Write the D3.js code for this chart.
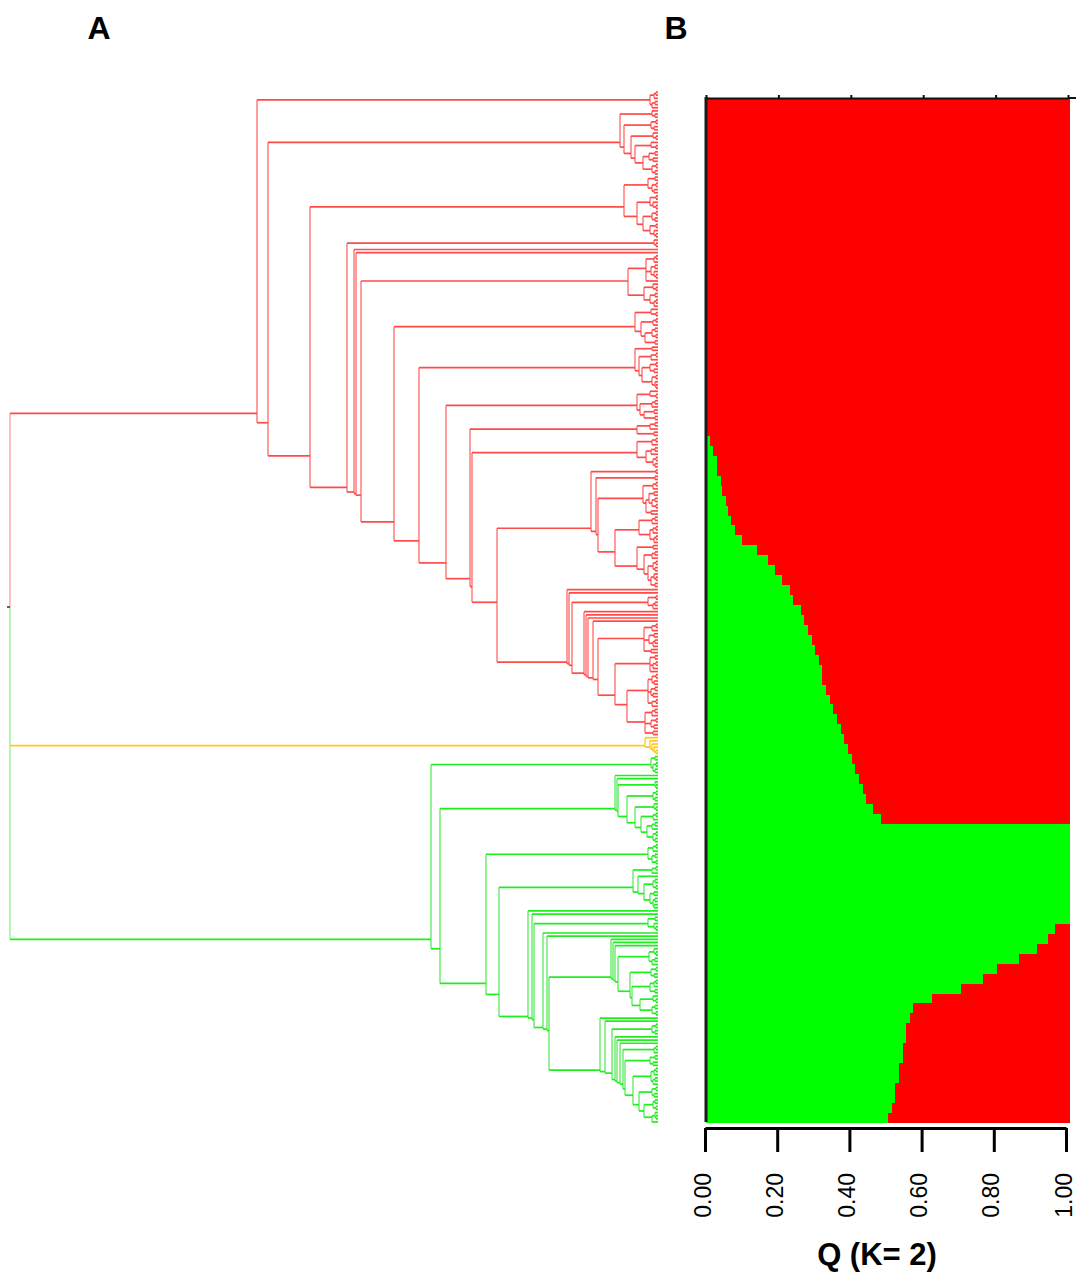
<!DOCTYPE html>
<html>
<head>
<meta charset="utf-8">
<script src="https://cdn.jsdelivr.net/npm/d3@7"></script>
<style>
  body { margin: 0; background: #ffffff; }
  svg { display: block; }
</style>
</head>
<body>
<script>
// ---------------- DATA ----------------
// Dendrogram (panel A) in a compact Newick-like notation:
// "x" = one accession (leaf); "(...)h" = a cluster joined at distance h.
const T1 = "(((xx)2x)4((xx)3x)6)8";
const C1 = "((x(xx)3)6(((xx)2(xx)4)7((x(xx)2)5((x(xx)2)7(((xx)3(xx)5)9((xx)2(xx)3)6)15)23)27)34)38";
const D1 = "(((xx)3((xx)2(xx)4)6)10(((xx)2(x(xx)2)5)8(((xx)2(xx)3)6((xx)2(x(xx)2)4)8)15)21)34";
const TINY = "(x(xx)2)4";
const E1 = "((((xx)2x)4((xx)3(x(xx)2)4)7x)12((x(xx)2)5((xx)3((xx)2x)4)8)14)30";
const F1 = "((x(xx)2)7(((xx)2x)5(((xx)3(xx)2)6(xx)3)13)17)23";
const G1 = "((xx)6(((xx)2x)7(((xx)2(xx)4)8((xx)2(x(xx)2)3)6)16)19)23";
const H1 = "((x(xx)2)8(((xx)3x)6((xx)4(xx)3)14)18)21";
const I1 = "(((xx)3x)8(xx)4)21";
const J1 = "(((xx)2x)6(((xx)3x)7((xx)2(xx)3)5)12)21";
const K_A = "(((xx)2x)5(((xx)4((xx)3(xx)2)6)9(xx)7)12)15";
const K_B = "(((xx)3x)6(((xx)2x)5((xx)2x)4)8)19";
const K_C = "((xx)5(((xx)3x)6(((xx)2(xx)3)5((x(xx)2)4(xx)3)7)10)14)21";
const L_A = "((xx)2((xx)3x)5)10";
const L_B = "(((xx)2x)6((xx)4((xx)3x)5)9(xx)7)14";
const L_C = "((xx)3((xx)2x)5x)8";
const L_D = "(((xx)2(xx)4)6((xx)3(xx)5)7((xx)2x)6)10";
const L_E = "(((xx)3x)6((xx)2(xx)4)7(xx)5)13";
const UPPER = `((xx)2((xx)3(${K_A}(${K_B}${K_C})43)60)62)67`;
const LOWER = `(x(x(${L_A}(x(x(x(x(${L_B}(${L_C}(${L_D}${L_E})31)43)60)65)70)72)74)86)89)91`;
const RED_CLUSTER = `(${T1}(${C1}(${D1}(${TINY}(x(x(${E1}(${F1}(${G1}(${H1}(${I1}(${J1}(${UPPER}${LOWER})161)186)188)212)239)264)297)302)304)311)348)390)401`;

const YELLOW_CLUSTER = "(x(x(x(x(xx)2)4)6)8)13";

const G_A = "((xx)3((xx)2(xx)3)5)7";
const G_M = "(x(x((x(xx)2)3(((xx)2(xx)3)5((x(xx)2)4(((xx)2x)5(((xx)3x)6((xx)2(xx)3)5)11)17)23)31)40)41)43";
const G_C = "(((xx)2x)5((xx)3(xx)2)6)10";
const G_P = "(((xx)2x)6(x(((xx)3(xx)2)5((xx)4((xx)3(xx)4)5)8)14)20)25";
const G_Q = "((xx)3(x(xx)2)4)10";
const G_R = "(x(x(x(((x(xx)2)4((xx)3x)6)9(((xx)2(xx)4)7((((xx)2x)4(xx)3)8((x(xx)2)5((xx)3(xx)2)6)18)26)28)40)43)45)47";
const G_S = "(x(x(((xx)2(xx)3)6(x(x(x(((xx)2x)4(((xx)3(xx)5)8((((xx)2x)4((xx)3x)5)7(((xx)2(xx)4)6(((xx)3(xx)2)5((x(xx)2)3x)6)14)19)25)33)35)38)41)43)46)53)58";
const GREEN_CLUSTER = `(${G_A}(${G_M}(${G_C}(${G_P}(x(x(${G_Q}(x(x(${G_R}${G_S})109)111)115)124)126)130)159)172)218)227`;

const TREE = `(${RED_CLUSTER}${YELLOW_CLUSTER}${GREEN_CLUSTER})648`;
const maxDistance = 648;

// Panel B: membership coefficient of the green group (Q, K = 2), one value per sorted individual
const qGreen = [
  0,0,0,0,0,0,0,0,0,0,
  0,0,0,0,0,0,0,0,0,0,
  0,0,0,0,0,0,0,0,0,0,
  0,0,0,0,
  0.01,0.02,0.03,0.03,0.04,0.045,0.055,0.06,0.07,0.08,
  0.10,0.14,0.17,0.19,0.21,0.23,0.24,0.26,0.27,0.28,
  0.29,0.30,0.31,0.32,0.32,0.33,0.34,0.35,0.36,0.37,
  0.38,0.39,0.40,0.41,0.42,0.43,0.44,0.46,0.48,
  1,1,1,1,1,1,1,1,1,1,
  0.96,0.94,0.91,0.86,0.80,0.76,0.70,0.62,0.57,0.56,
  0.55,0.55,0.54,0.54,0.53,0.53,0.52,0.52,0.51,0.50
];
const qTicks = [0, 0.2, 0.4, 0.6, 0.8, 1.0];
const panelLabels = ["A", "B"];
const axisTitle = "Q (K= 2)";

// ---------------- PARSER ----------------
function parseTree(s) {
  let i = 0;
  function node() {
    if (s[i] === "x") { i++; return { h: 0 }; }
    i++; // "("
    const children = [];
    while (s[i] !== ")") children.push(node());
    i++; // ")"
    let num = "";
    while (i < s.length && /[0-9.]/.test(s[i])) num += s[i++];
    return { h: +num, children };
  }
  return node();
}

// ---------------- DRAW ----------------
const W = 1078, H = 1272;
const FONT = "'Liberation Sans', Arial, sans-serif";
const svg = d3.select("body").append("svg").attr("width", W).attr("height", H);

// Panel A — dendrogram
const root = d3.hierarchy(parseTree(TREE));
const leaves = root.leaves();
const yLeaf = d3.scaleLinear().domain([0, leaves.length - 1]).range([92, 1122]);
const xDist = d3.scaleLinear().domain([0, maxDistance]).range([658, 10]);
leaves.forEach((l, i) => { l.py = yLeaf(i); });
root.eachAfter(n => {
  if (n.children) n.py = d3.mean(n.leaves(), l => l.py);
  n.px = xDist(n.data.h);
});
root.children.forEach((c, i) => c.each(d => { d.clade = i; }));

const hColor = ["#ff4a4a", "#ffc81f", "#1fee1f"];
const vColor = ["#ff8c8c", "#ffd75a", "#80f080"];

const gTree = svg.append("g").attr("fill", "none").attr("stroke-width", 1.7);

// verticals
gTree.selectAll("line.v")
  .data(root.descendants().filter(d => d.children && d.parent))
  .join("line")
  .attr("class", "v")
  .attr("x1", d => d.px).attr("x2", d => d.px)
  .attr("y1", d => d3.min(d.children, c => c.py))
  .attr("y2", d => d3.max(d.children, c => c.py))
  .attr("stroke", d => vColor[d.clade]);

// root vertical (split colour at the root point)
const rc = root.children;
gTree.append("line")
  .attr("x1", root.px).attr("x2", root.px)
  .attr("y1", rc[0].py).attr("y2", root.py)
  .attr("stroke", "#ffb5b5");
gTree.append("line")
  .attr("x1", root.px).attr("x2", root.px)
  .attr("y1", root.py).attr("y2", rc[rc.length - 1].py)
  .attr("stroke", "#a8f5a8");
gTree.append("line")
  .attr("x1", root.px - 3).attr("x2", root.px)
  .attr("y1", root.py).attr("y2", root.py)
  .attr("stroke", "#444");

// horizontals
gTree.selectAll("line.h")
  .data(root.descendants().filter(d => d.parent))
  .join("line")
  .attr("class", "h")
  .attr("x1", d => d.parent.px).attr("x2", d => d.px)
  .attr("y1", d => d.py).attr("y2", d => d.py)
  .attr("stroke", d => hColor[d.clade]);

// Panel B — STRUCTURE bar plot
const xQ = d3.scaleLinear().domain([0, 1]).range([706, 1070]);
const yInd = d3.scaleBand().domain(d3.range(qGreen.length)).range([98, 1122]).padding(0);
const gBars = svg.append("g").attr("shape-rendering", "crispEdges");
gBars.selectAll("rect.red")
  .data(qGreen)
  .join("rect")
  .attr("class", "red")
  .attr("x", d => xQ(d)).attr("width", d => xQ(1) - xQ(d))
  .attr("y", (d, i) => yInd(i)).attr("height", yInd.bandwidth() + 0.8)
  .attr("fill", "#ff0000");
gBars.selectAll("rect.green")
  .data(qGreen)
  .join("rect")
  .attr("class", "green")
  .attr("x", xQ(0)).attr("width", d => xQ(d) - xQ(0))
  .attr("y", (d, i) => yInd(i)).attr("height", yInd.bandwidth() + 0.8)
  .attr("fill", "#00ff00");

// frame: left border and top border with small ticks
svg.append("line")
  .attr("x1", 706).attr("x2", 706).attr("y1", 97).attr("y2", 1122)
  .attr("stroke", "#1b1b1b").attr("stroke-width", 3);
const xTop = d3.scaleLinear().domain([0, 1]).range([706, 1068]);
const topAxis = svg.append("g").attr("transform", "translate(0,98)")
  .call(d3.axisTop(xTop).tickValues(qTicks).tickSize(3).tickSizeOuter(0).tickFormat(""));
topAxis.select(".domain").attr("stroke", "#111").attr("stroke-width", 2);
topAxis.selectAll(".tick line").attr("stroke", "#111").attr("stroke-width", 2);
svg.append("line").attr("x1", 1068).attr("x2", 1076).attr("y1", 98).attr("y2", 98)
  .attr("stroke", "#111").attr("stroke-width", 2);

// bottom axis
const xAxisScale = d3.scaleLinear().domain([0, 1]).range([705, 1066]);
const bottomAxis = svg.append("g").attr("transform", "translate(0,1128)")
  .call(d3.axisBottom(xAxisScale).tickValues(qTicks).tickSize(24).tickSizeOuter(0)
    .tickFormat(d3.format(".2f")));
bottomAxis.select(".domain").attr("stroke", "#000").attr("stroke-width", 3);
bottomAxis.selectAll(".tick line").attr("stroke", "#000").attr("stroke-width", 3);
bottomAxis.selectAll(".tick text")
  .attr("transform", "rotate(-90)")
  .attr("x", -45).attr("y", 0).attr("dy", "0.22em")
  .attr("text-anchor", "end")
  .attr("fill", "#000")
  .style("font-family", FONT).style("font-size", "23px");

// axis title
svg.append("text")
  .attr("x", 877).attr("y", 1265)
  .attr("text-anchor", "middle")
  .style("font-family", FONT).style("font-weight", "bold").style("font-size", "31px")
  .text(axisTitle);

// panel labels
svg.selectAll("text.panel")
  .data(panelLabels)
  .join("text")
  .attr("class", "panel")
  .attr("x", (d, i) => [99, 676][i]).attr("y", 39)
  .attr("text-anchor", "middle")
  .style("font-family", FONT).style("font-weight", "bold").style("font-size", "32px")
  .text(d => d);
</script>
</body>
</html>
